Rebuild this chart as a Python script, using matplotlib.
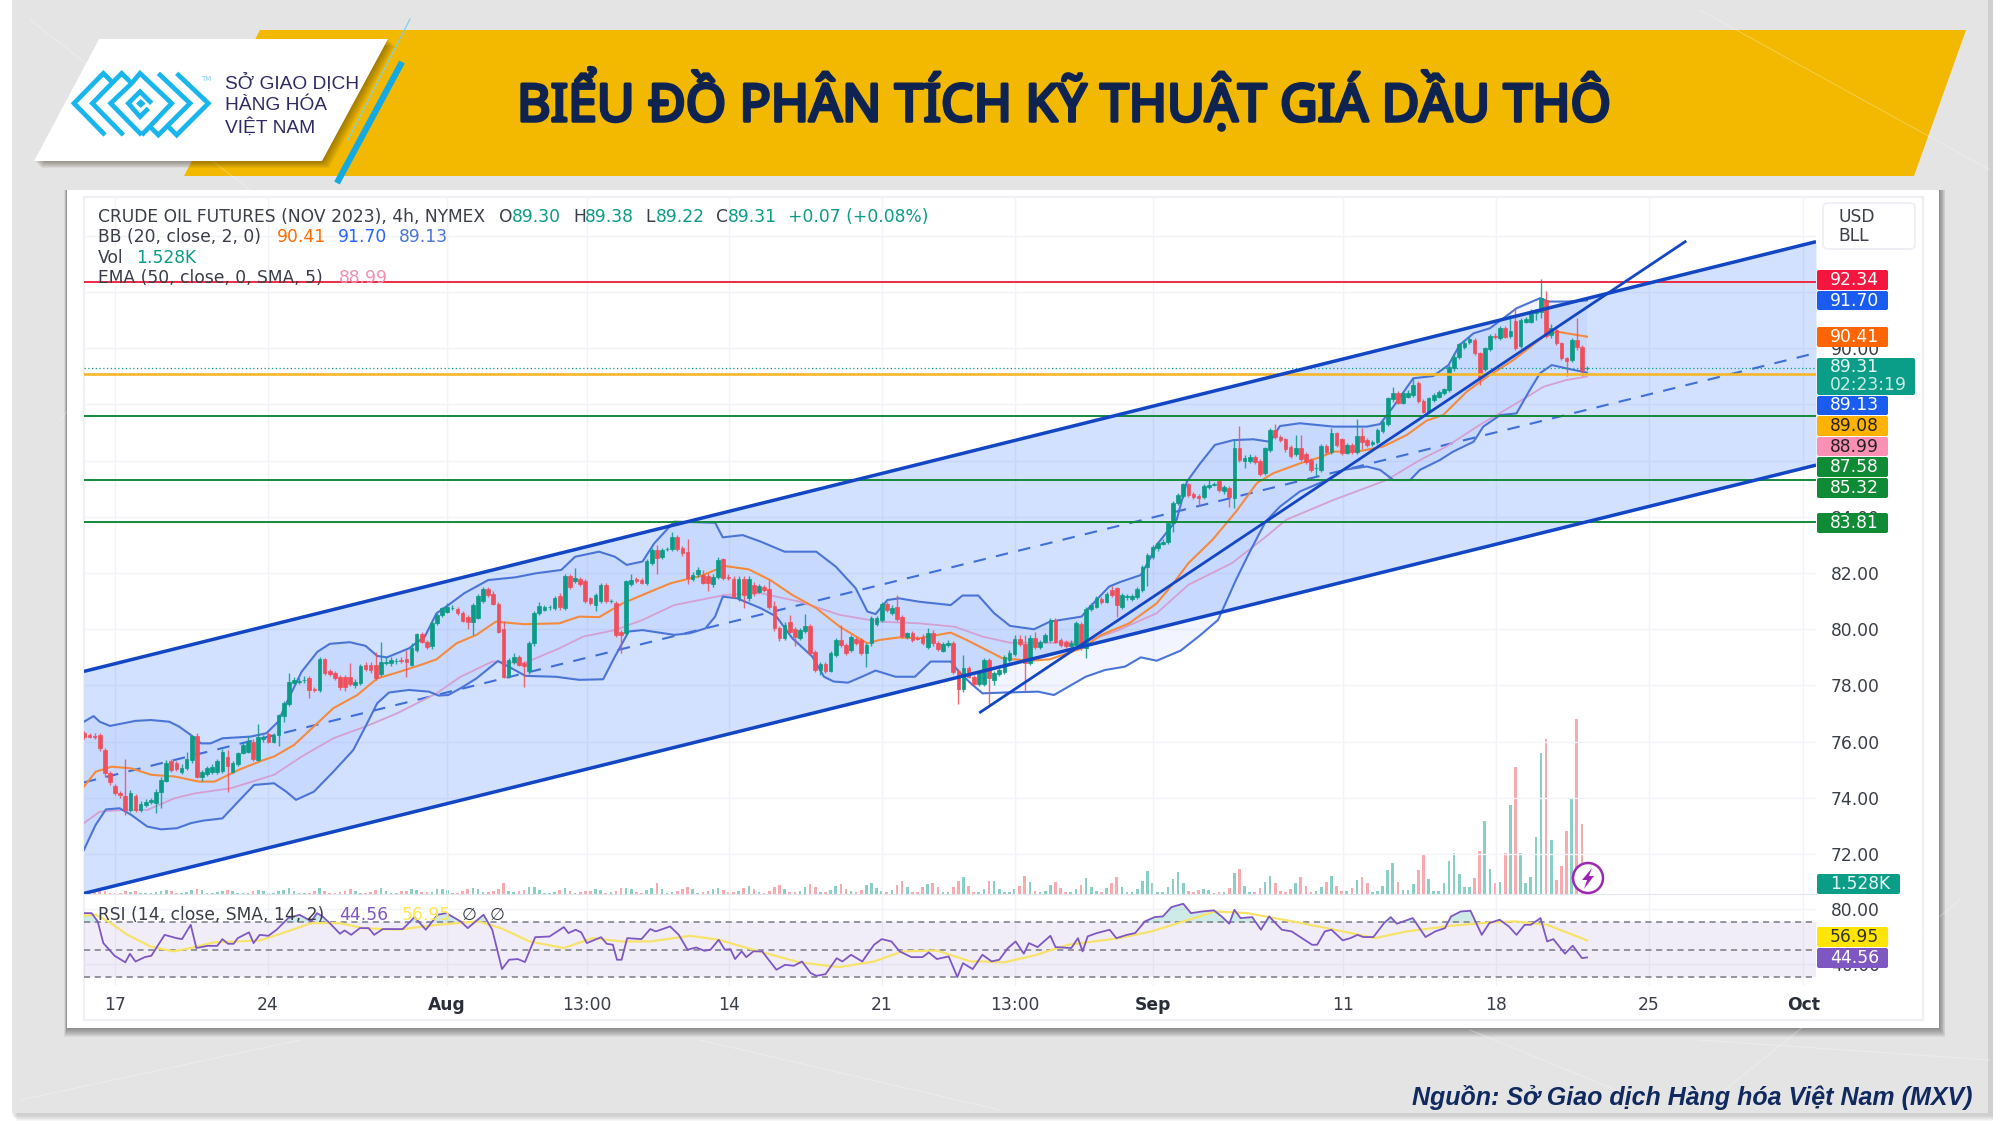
import matplotlib
matplotlib.use('Agg')
import matplotlib.pyplot as plt
import matplotlib.patheffects as pe
from matplotlib.patches import Polygon, Rectangle, FancyBboxPatch, Circle
import numpy as np

# candles (bar 0 is the leftmost)
opens = [
    76.30,76.24,76.20,76.24,75.70,74.87,74.42,74.16,74.05,73.57,
    74.07,73.57,73.75,73.85,73.83,74.20,74.60,75.30,75.23,74.93,
    75.05,75.35,76.20,74.76,74.85,74.93,74.93,74.97,75.47,74.93,
    75.20,75.60,75.65,76.00,75.35,76.08,76.28,76.00,76.24,76.90,
    77.34,78.10,78.13,78.18,78.25,77.87,77.84,78.93,78.50,78.46,
    78.30,78.30,78.30,78.00,78.07,78.72,78.73,78.72,78.40,78.80,
    78.80,78.87,78.90,78.93,78.73,79.26,79.82,79.56,79.40,80.21,
    80.50,80.63,80.75,80.71,80.59,80.45,80.27,80.40,81.00,81.42,
    81.26,80.90,80.00,78.34,78.85,79.03,78.79,78.50,79.50,80.57,
    80.70,80.78,80.75,81.20,80.75,81.90,81.70,81.78,81.70,81.10,
    80.86,81.00,81.58,81.00,80.95,79.90,79.86,81.60,81.78,81.75,
    81.63,82.37,82.82,82.56,82.84,82.85,83.27,82.88,82.76,81.80,
    81.98,81.93,81.90,81.60,81.85,82.49,81.85,81.80,81.10,81.80,
    81.10,81.58,81.34,81.50,81.42,80.83,80.03,79.68,80.27,80.00,
    79.70,79.95,80.12,79.20,78.55,78.77,78.53,79.09,79.62,79.44,
    79.26,79.64,79.62,79.15,79.50,80.20,80.33,80.90,80.57,80.80,
    80.43,79.71,79.88,79.68,79.74,79.38,79.88,79.50,79.24,79.43,
    79.52,78.53,77.86,78.61,78.31,78.05,78.05,78.91,78.20,78.41,
    78.49,78.91,79.12,79.64,79.48,78.79,79.68,79.36,79.56,79.62,
    80.33,79.62,79.56,79.41,79.44,80.19,79.32,80.71,80.80,81.07,
    80.98,81.40,81.46,80.80,81.15,81.07,81.14,81.40,82.23,82.58,
    82.88,83.05,83.12,83.77,84.48,84.75,85.16,84.80,84.74,84.72,
    85.07,85.15,85.27,84.93,85.02,84.66,86.44,86.00,86.00,86.14,
    85.99,85.57,86.38,87.09,86.85,86.76,86.47,86.24,86.44,86.24,
    86.02,85.72,85.67,86.52,86.32,86.97,86.76,86.28,86.56,86.32,
    86.88,86.74,86.60,86.65,87.07,87.30,88.18,88.40,88.06,88.28,
    88.33,88.75,88.13,87.74,88.16,88.28,88.40,88.51,89.28,89.68,
    90.05,90.22,90.29,89.82,89.25,89.97,90.42,90.35,90.73,90.44,
    90.98,90.08,90.94,90.94,91.24,91.30,91.72,90.47,90.65,90.17,
    89.64,89.58,90.29,90.05,89.30]
closes = [
    76.16,76.18,76.15,75.76,74.87,74.55,74.16,74.10,73.57,74.16,
    73.57,73.80,73.87,73.93,74.20,74.65,75.25,75.00,75.02,75.05,
    75.37,76.20,74.76,74.93,75.05,75.10,75.30,75.65,75.12,75.23,
    75.60,75.88,76.00,75.37,76.15,76.18,76.00,76.24,76.95,77.36,
    78.14,78.20,78.16,78.20,77.84,77.85,78.93,78.43,78.42,78.26,
    77.95,77.93,78.04,78.13,78.70,78.60,78.55,78.25,78.82,78.85,
    78.90,78.88,78.87,78.85,79.32,79.82,79.56,79.36,80.24,80.50,
    80.74,80.78,80.76,80.59,80.30,80.27,80.86,81.18,81.42,81.22,
    80.90,79.92,78.30,78.90,79.03,78.73,78.70,79.52,80.57,80.83,
    80.80,80.79,81.12,80.78,81.90,81.50,81.82,81.60,81.02,80.92,
    81.22,81.58,81.00,81.02,79.80,79.80,81.70,81.75,81.70,81.66,
    82.43,82.82,82.52,82.82,82.85,83.27,82.85,82.70,81.82,81.93,
    82.10,81.66,81.63,81.87,82.47,81.81,81.83,81.16,81.80,81.22,
    81.80,81.28,81.54,81.40,80.80,80.03,79.68,80.15,79.92,79.71,
    79.97,80.12,79.15,78.55,78.77,78.53,79.15,79.62,79.44,79.17,
    79.71,79.52,79.17,79.44,80.39,80.39,80.90,80.69,80.75,80.35,
    79.76,79.86,79.62,79.67,79.52,79.88,79.50,79.29,79.48,79.52,
    78.49,77.86,78.61,78.31,78.05,78.49,78.91,78.25,78.43,78.55,
    79.03,79.17,79.64,79.48,78.79,79.68,79.38,79.56,79.80,80.33,
    79.56,79.44,79.41,79.52,80.24,79.32,80.71,80.86,81.10,80.97,
    81.26,81.22,80.86,81.22,81.17,81.18,81.42,82.23,82.65,82.94,
    83.06,83.12,83.77,84.48,84.78,85.16,84.78,84.70,84.66,85.10,
    85.13,85.16,84.95,85.05,84.72,86.44,86.02,86.08,86.12,85.96,
    85.52,86.44,87.09,86.83,86.73,86.40,86.16,86.44,86.05,85.96,
    85.67,85.74,86.52,86.32,86.97,86.56,86.28,86.56,86.32,86.88,
    86.68,86.56,86.65,87.09,87.39,88.22,88.40,88.06,88.40,88.42,
    88.69,88.13,87.74,88.22,88.33,88.45,88.54,89.34,89.70,90.14,
    90.20,90.32,89.82,88.93,89.99,90.44,90.39,90.73,90.41,90.61,
    90.00,91.00,91.03,91.30,91.34,91.77,90.43,90.71,90.17,89.64,
    89.56,90.29,90.03,89.22,89.31]
highs = [
    76.38,76.30,76.30,76.30,75.78,74.97,74.50,74.25,75.40,74.28,
    74.15,73.88,73.95,74.00,74.30,74.75,75.35,75.40,75.30,75.20,
    75.65,76.25,76.30,75.00,75.15,75.20,75.38,75.75,75.70,75.30,
    75.65,75.95,76.20,76.10,76.63,76.25,76.35,76.30,77.00,77.45,
    78.46,78.30,78.25,78.35,78.35,77.95,79.00,78.98,78.60,78.52,
    78.38,78.38,78.80,78.22,78.78,78.85,78.85,79.20,79.55,79.00,
    79.00,78.98,79.00,79.25,79.50,79.88,79.90,79.62,80.30,80.58,
    80.80,80.95,80.85,80.78,80.65,80.52,80.92,81.25,81.50,81.50,
    81.35,80.98,80.30,78.98,79.15,79.10,78.88,79.58,80.65,80.98,
    80.88,80.88,81.20,81.30,81.95,81.98,82.17,81.85,81.78,81.15,
    81.28,81.65,81.65,81.08,81.00,79.98,81.75,81.97,81.85,81.82,
    82.50,82.90,83.00,82.90,82.92,83.45,83.35,82.95,83.20,82.05,
    82.20,82.10,82.00,81.95,82.58,82.55,81.95,81.88,81.90,81.88,
    81.88,81.68,81.60,81.58,81.75,81.02,80.10,80.25,80.50,80.08,
    80.03,80.54,80.20,79.25,78.85,78.85,79.22,79.70,80.15,79.50,
    79.80,79.72,79.70,79.50,80.47,80.48,80.98,80.98,80.85,81.22,
    80.50,79.92,79.95,79.75,79.82,80.05,79.98,79.58,79.55,79.60,
    79.58,78.60,79.09,78.68,78.38,78.55,78.98,78.98,78.50,78.62,
    79.10,79.25,79.80,79.80,79.80,79.78,79.90,79.62,79.88,80.40,
    80.39,79.68,79.62,79.60,80.30,80.25,80.78,80.92,81.18,81.15,
    81.32,81.54,81.52,81.30,81.25,81.25,81.50,82.30,82.72,83.00,
    83.12,83.20,83.82,84.55,84.85,85.22,85.22,84.88,84.80,85.16,
    85.30,85.25,85.33,85.12,85.08,86.73,87.23,86.20,86.25,86.20,
    86.05,86.50,87.15,87.30,86.92,86.82,86.55,86.90,86.90,86.30,
    86.10,85.90,86.58,86.60,87.15,87.02,86.82,86.62,86.62,87.47,
    87.15,86.80,86.72,87.15,87.45,88.28,88.63,88.48,88.45,88.50,
    88.93,88.82,88.20,88.28,88.40,88.52,88.60,89.40,89.78,90.20,
    90.28,90.40,90.38,89.88,90.05,90.50,90.55,90.80,90.80,91.18,
    91.42,91.08,91.10,91.38,91.40,92.45,92.04,90.85,90.72,90.22,
    89.70,90.35,91.06,90.12,89.38]
lows = [
    76.10,76.12,76.08,75.68,74.75,74.45,74.10,74.00,73.40,73.50,
    73.50,73.50,73.68,73.78,73.45,73.63,74.55,74.92,74.95,74.85,
    74.98,75.25,74.70,74.60,74.78,74.85,74.85,74.90,74.20,74.88,
    75.15,75.55,75.60,75.30,75.30,76.00,75.95,75.95,75.85,76.70,
    77.28,78.05,78.05,78.10,77.55,77.75,77.78,78.38,78.35,78.20,
    77.85,77.80,77.98,77.92,78.00,78.52,78.45,78.20,78.35,78.72,
    78.70,78.75,78.80,78.30,78.68,79.20,79.50,79.30,79.30,80.15,
    80.45,80.58,80.68,80.52,80.25,80.00,79.80,80.35,80.95,81.15,
    80.85,79.85,78.25,78.28,78.78,78.68,77.95,78.40,79.42,80.50,
    80.65,80.70,80.70,80.70,80.70,81.45,81.65,81.55,80.95,80.85,
    80.65,80.95,80.95,80.95,79.72,79.15,79.80,81.55,81.65,81.60,
    81.58,82.30,81.97,82.50,82.78,82.80,82.78,82.62,81.60,81.70,
    81.85,81.60,81.35,81.50,81.78,81.75,81.75,81.10,81.00,80.75,
    81.00,81.20,81.28,81.32,80.72,79.95,79.58,79.60,79.85,79.40,
    79.62,79.88,79.10,78.48,78.37,78.45,78.48,79.02,79.38,79.10,
    79.20,79.45,79.10,78.67,79.42,80.12,80.25,80.60,80.50,80.28,
    79.70,79.65,79.55,79.60,79.45,79.30,79.42,79.22,79.18,79.38,
    78.42,77.34,77.78,78.25,77.98,77.98,77.98,77.34,78.00,78.35,
    78.42,78.85,79.05,79.42,77.82,78.72,79.30,79.30,79.50,79.55,
    79.50,79.38,79.35,79.35,79.38,79.25,78.97,80.65,80.75,80.90,
    80.92,81.15,80.45,80.72,81.05,81.00,81.08,81.32,81.55,82.50,
    82.80,82.98,83.05,83.47,84.42,84.68,84.72,84.62,84.40,84.65,
    85.00,85.08,84.88,84.80,84.35,84.30,85.95,85.75,85.92,85.88,
    85.45,85.50,86.30,86.78,86.65,86.32,86.08,86.15,85.98,85.88,
    85.60,85.45,85.60,86.25,86.25,86.50,86.20,86.22,86.25,86.25,
    86.40,86.50,86.52,86.60,87.00,87.22,88.10,88.00,88.00,88.22,
    88.28,88.05,87.68,87.68,88.10,88.22,88.35,88.45,89.20,89.60,
    89.98,90.15,89.75,88.70,89.18,89.90,90.32,90.28,90.35,90.38,
    89.92,90.02,90.88,90.88,91.00,91.06,90.35,90.35,90.10,89.58,
    89.00,89.50,89.95,89.00,89.22]
volumes = [
    .4,.4,.8,1.1,1.1,.4, .4,.4,1.1,.8,1.1,.4, .4,.4,.8,1.1,1.5,1.1,
    .4,.4,.8,1.5,1.9,1.5, .4,.4,.8,1.1,1.5,1.1, .4,.4,.4,1.1,1.5,1.1,
    .4,.4,1.1,1.5,2.3,1.1, .4,.4,.4,1.1,2.3,1.1, .4,.4,.8,1.1,1.9,1.1,
    .4,.4,.8,1.5,2.3,1.1, .4,.4,1.1,1.1,1.9,1.5, .8,.8,.8,1.9,1.9,1.5,
    .4,.4,1.1,1.9,2.3,1.9, .8,.8,1.1,1.9,4.2,1.1, .8,1.1,1.5,2.7,2.7,1.5,
    .4,.4,.8,1.5,2.3,1.1, .4,.8,
    1.1,1.1,1.9,1.5,.4,.8,1.1,2.3,2.3,1.9,
    .8,.4,1.5,2.3,4.2,1.9,.4,.8,1.1,1.9,
    2.7,1.9,.4,.8,1.1,1.9,2.3,1.5,.8,.8,
    1.1,2.3,3.0,1.9,.8,.4,1.1,2.7,3.4,1.9,
    .8,.8,1.1,2.7,3.8,2.7,.8,.8,1.5,3.0,
    3.8,1.9,1.1,.8,1.5,3.4,4.2,2.3,1.1,.8,
    1.5,3.4,4.9,2.7,.8,.8,2.7,3.8,4.2,2.7,
    .8,.8,2.7,4.9,6.5,3.0,.8,.8,1.9,4.9,
    4.9,1.9,.8,.8,1.9,3.0,6.8,4.6,1.1,.8,
    1.1,3.4,4.6,2.3,.8,.8,1.9,
    3.4,6.1,2.7,1.1,.8,2.3,4.2,6.5,2.7,.8,
    .8,1.9,4.9,8.7,4.2,.8,.8,2.7,5.7,8.4,
    4.2,1.1,.8,1.5,1.9,1.5,.4,.8,.8,2.3,
    8.0,9.5,3.0,.8,.8,2.3,4.6,6.8,4.2,1.1,
    .8,1.9,4.2,6.5,3.0,.8,1.1,2.7,4.6,6.8,
    3.0,1.1,1.1,2.3,5.3,6.5,4.2,.8,1.1,3.0,
    9.1,11.8,4.6,1.5,1.5,3.8,9.1,15.2,5.7,1.1,
    1.1,4.2,12.5,15.6,7.6,2.7,2.7,6.1,16.3,27.7,
    9.5,4.2,4.6,15.6,33.8,48.3,15.6,4.2,6.5,21.7,
    53.6,58.9,20.5,5.3,10.6,23.9,36.1,66.5,26.6,1.528]

# bollinger bands and moving averages (bar, price)
bb_up_x = [-0.1,1.8,3,5,10,13,16.6,18.5,20.8,22.8,24.7,27,32.5,35.6,37.9,39.8,42.5,45.6,48,51.9,55,57.3,59.2,63.5,66.6,68.9,71.2,74.3,76.7,79,84.4,88.3,93.3,96,100.7,103.8,106.1,109.2,111.5,115.4,123.4,124.9,128.8,132.3,137,143.2,147,150.9,153.2,154.8,157.1,159.4,163.3,169.5,171.8,174.9,178,181.1,185.8,188.9,195.1,196.5,200.5,202.8,206.7,208.7,209.8,213.7,215.7,218.3,221.2,224.8,228.7,232,233.9,237.8,244.4,250.9,253.5,256.1,260,263.9,266.9,269.1,271.8,275,277.6,280.2,284.8,286.4,290,294]
bb_up_y = [76.71,76.91,76.71,76.56,76.74,76.77,76.71,76.54,76.24,75.94,75.94,76.12,76.18,76.3,76.71,77.48,78.49,79.2,79.48,79.54,79.41,79.05,79.0,79.32,79.74,80.57,80.86,81.28,81.52,81.75,81.85,81.99,82.11,82.58,82.76,82.58,82.29,82.41,83.06,83.83,83.79,83.27,83.35,83.12,82.76,82.76,82.23,81.46,80.63,80.54,81.04,81.1,80.98,80.86,81.2,81.2,80.57,80.12,80.0,80.27,80.45,80.75,81.52,81.69,81.93,82.58,83.0,83.89,85.25,85.9,86.56,86.73,86.76,86.67,87.23,87.33,87.21,87.21,87.3,87.92,88.93,89.01,89.4,90.12,90.53,90.71,91.06,91.42,91.78,91.66,91.66,91.70]
bb_lo_x = [-0.1,2.2,4.2,6.9,9.2,12.3,15,18.1,20.8,23.2,27,30.1,33.2,37.1,39.5,41.4,44.9,48.7,52.6,55,57.3,59.6,63.5,67.4,69.3,71.2,73.6,76.7,80.9,83.6,86.3,92.2,96.8,101.5,103.8,106.5,109.2,115.4,118.5,121.5,123.4,124.9,127.7,132.3,135.4,138.5,142.4,144.7,146.6,149.4,152.5,154.8,158.7,162.5,165.6,169.5,171.1,173.4,175.7,180.4,186.6,189.7,192,195.9,199.7,203.6,206.7,209.8,214.5,218.4,221.8,225.3,227.7,231.1,233.9,237.8,243.1,246.3,250.9,253.5,256.1,259.4,261.3,265.2,267.8,271.8,273.7,277,280.2,282.8,284.8,287.1,290,294]
bb_lo_y = [72.15,73.04,73.59,73.63,73.39,72.98,72.88,72.92,73.1,73.19,73.27,73.87,74.46,74.52,74.22,73.93,74.22,74.93,75.7,76.54,77.37,77.75,77.84,77.78,77.64,77.66,77.9,78.25,78.87,78.61,78.34,78.31,78.2,78.22,79.03,79.92,79.97,79.8,79.86,80.03,80.45,81.16,81.1,80.75,80.45,79.68,79.03,78.31,78.14,78.1,78.34,78.53,78.31,78.31,78.85,78.85,78.49,78.08,77.72,77.75,77.78,77.66,77.9,78.31,78.55,78.67,79.0,78.88,79.24,79.8,80.33,81.75,82.64,83.83,84.36,84.9,85.31,85.67,85.79,85.67,85.31,85.31,85.67,86.02,86.32,86.67,87.21,87.62,87.68,88.51,89.11,89.4,89.28,89.13]
bb_mid_x = [-0.1,2.2,5.3,9.2,13.1,17.7,22.4,25.5,30.1,34.8,37.1,41,44.9,48.7,53.4,57.3,61.2,65.8,68.9,72.8,76.7,80.5,86,92.9,96.8,100.7,105.3,109.2,114.6,118.5,120.7,125.3,130,134.2,138.5,143.2,147.8,153.2,155.6,159.4,163.3,169.5,172.6,176.5,179.6,185,188.9,195.1,199,204.4,209.8,213.3,216,220.7,225.3,229.4,232.6,237.8,241.8,244.4,249.6,254.1,258.7,262.6,265.9,270.5,275,279.6,285.5,288.1,294]
bb_mid_y = [74.4,74.93,75.11,75.05,74.82,74.76,74.58,74.58,74.99,75.33,75.47,75.88,76.54,77.19,77.66,78.25,78.46,78.73,78.93,79.5,79.8,80.27,80.18,80.21,80.45,80.43,80.92,81.22,81.63,81.81,81.9,82.25,82.13,81.75,81.22,80.75,80.09,79.5,79.62,79.71,79.68,79.88,79.62,79.26,78.97,78.88,78.93,79.32,79.8,80.21,80.92,81.69,82.35,83.18,84.18,85.2,85.55,85.9,86.12,86.32,86.34,86.5,86.91,87.42,87.63,88.46,89.05,89.58,90.41,90.59,90.41]
ema_x = [-0.1,3,7.7,12.3,17.7,21.6,28.6,37.1,42.5,48.7,55,61.2,68.9,73.6,79.8,86,92.9,97.6,103.8,109.2,115.4,125.3,132.3,140,147.8,155.6,163.3,170.3,175.7,181.1,189.7,195.9,202.1,209.8,216,224.5,230.8,235.2,244.4,254.8,261.3,266.5,273,280.2,285.5,290,294]
ema_y = [73.1,73.51,73.57,73.57,73.99,74.16,74.34,74.82,75.47,76.12,76.54,77.01,77.72,78.31,78.85,78.79,79.32,79.74,79.97,80.33,80.86,81.22,81.28,80.98,80.51,80.27,80.21,80.09,79.74,79.52,79.52,79.56,79.95,80.57,81.58,82.35,83.24,83.9,84.6,85.31,86.02,86.5,87.27,88.04,88.63,88.87,88.99]

# rsi pane (bar, value)
rsi_x = [-0.3,1.4,2.6,3.7,5.9,8,8.9,10,11.8,13.1,15.7,18,19.1,20.8,21.9,24.1,26,27,28.1,29.2,30,32.2,33.1,34.3,36,37.6,39.9,42.1,44.4,45.5,46.6,48,50,50.9,52.2,53.9,55.6,56.7,58.4,62.3,64.6,66.8,69.1,70.8,73.6,75,78.1,79.8,81.7,83.1,84.8,86.2,88.2,91,93.8,94.7,96.1,97.2,98.3,101.1,102.2,103.4,104.2,105.1,106.2,109,110.7,111.8,114.6,116.3,118,119.7,121.3,122.5,124.1,125.3,126.4,127.3,128.6,129.5,130.9,132.6,135.4,137.1,138.8,140.4,142.1,143.2,145,147.2,148.3,150,152.2,154.5,156,157.9,159.5,161.8,164,165.2,166.8,169.1,170.8,171.9,173.8,175.7,177.5,179,180.7,182.2,183.8,184.8,186.5,189,190,193.1,194.4,195.3,196.3,198.1,200.6,201.9,204,205.6,207.5,209.4,211,212.7,215,216.5,218.7,221,222.5,224,225,226.2,228.5,230.2,231.8,234.3,236.2,240.2,241.2,242.7,244,246.2,247.7,249.1,250.2,252.2,254.3,255.6,256.8,259.9,262.4,264.3,266.2,267.4,269.3,271.2,273.4,274.9,276.9,278.7,280.2,281.8,283,284.9,286.2,287.4,289.7,291.2,293,294]
rsi_y = [76.8,76.8,70.8,55,45.8,41,47.2,41.6,44.8,45.8,61,58.6,57.9,68.3,51.4,53,53,57.9,54.5,54.5,58.6,62.8,55,61,60.3,64.7,73.2,75.6,70.8,76.8,74.4,69.5,61.8,64.2,61,65.9,65.9,61,65.2,65.2,73.9,64.7,75.6,76.8,70.8,65.9,75.6,64.7,36.1,42.9,43.4,41.2,59.3,59.8,66.6,62.3,64.7,62.8,55,59.3,54.5,53.8,42.9,42.9,58.6,57.9,65.2,63.5,67.1,61,50.2,51.8,49.4,50.2,57.4,50.2,50.6,43.4,49,44.8,49,49,35.6,39.2,38.5,41.6,33.2,31.2,32.4,44,41.6,46.5,41.6,53.8,57.9,56.2,49,44.8,44.8,48.2,43.4,45.3,30.3,40.4,36.1,46.5,41.7,42.9,51.4,56.2,47.3,55,52.1,60.3,52.1,51.4,58.6,49,59.9,62.3,64.7,58.6,61,62.3,70.8,73.9,74.4,81.2,83.6,76.8,78,78.8,74.4,69.1,79.2,73.2,73.9,64.7,74.4,64.7,63.5,53.8,53.8,63.5,64.7,57,58.6,61,59.4,59.4,69.6,73.9,69.1,73.2,59.4,63.5,65.9,74.4,78,78.5,61,69.6,72,67.1,61,68.3,68.3,73.2,56.2,57.9,47.3,53.1,44.1,44.56]
rsi_ma_x = [-0.3,2.2,5,8.4,12.9,17.4,20.8,25.3,34.3,38.8,44.4,50,54.5,61.2,69.1,77,81.5,87.1,93.8,99.4,105.1,110.7,118.5,124.1,132,139.9,147.7,154.5,160.1,166.8,173.4,175,180,186.3,192.5,202.5,208.8,221.2,227.5,237.5,246.2,252.5,258.7,267.4,274.9,279.9,286.2,294]
rsi_ma_y = [74.9,75.6,70,61,52.6,49,51.4,55.5,56.9,62.3,69.5,69.5,65.9,64.7,68.3,70.8,65.9,56.2,51.4,58.6,56.2,56.2,60.3,57.4,49,41,37.5,41.6,49,49.6,41.6,41.7,41,46.5,53.8,58.6,63.5,78,76.8,70,63.5,58.6,63.5,67.6,70,70.8,68.3,56.95]

# drawn objects: channel, trend line, levels
channel_x = [-0.1, 338.8]
channel_top = [78.5, 93.79]
channel_mid = [74.55, 89.83]
channel_bot = [70.6, 85.84]
trend_x = [175.3, 313.2]
trend_y = [77.05, 93.79]
level_red = 92.34
level_gold = 89.08
levels_green = [87.58, 85.32, 83.81]
last_price = 89.31

tick_pos = [6, 35.9, 70.9, 98.3, 126.1, 156, 182.1, 209.1, 246.3, 276.2, 306.1, 336.3]
tick_txt = ['17', '24', 'Aug', '13:00', '14', '21', '13:00', 'Sep', '11', '18', '25', 'Oct']
price_ticks = [72, 74, 76, 78, 80, 82, 84, 86, 88, 90, 92, 94]
price_txt = ['72.00', '74.00', '76.00', '78.00', '80.00', '82.00', '84.00', '', '', '90.00', '', '']

GREEN = '#0b9b86'
RED = '#ef4f5b'
BLUE = '#1246c4'
BB_BLUE = '#4a74d6'
TXT = '#3a3e48'
FS = 12.3

plt.rcParams['font.family'] = ['DejaVu Sans']
fig = plt.figure(figsize=(20, 11.25), dpi=100)


def rect(l, t, r, b):
    return [l / 2000, 1 - b / 1125, (r - l) / 2000, (b - t) / 1125]


def pix_axes(z):
    a = fig.add_axes([0, 0, 1, 1], zorder=z)
    a.set_xlim(0, 2000)
    a.set_ylim(1125, 0)
    a.axis('off')
    return a


# page, banner and white card
bg = pix_axes(0)
bg.add_patch(Rectangle((0, 0), 2000, 1125, color='white'))
for k in range(6):
    bg.add_patch(Rectangle((12 + k, 0), 1976 - k + 5, 1116 + k, color='#555555', alpha=0.05, lw=0))
bg.add_patch(Rectangle((12, 0), 1976, 1113, color='#e4e4e4', lw=0))
for seg in [((30, 20), (250, 190)), ((250, 190), (60, 420)), ((1700, 10), (1990, 170)), ((1960, 900), (1700, 1110)),
            ((1470, 1030), (1640, 1100)), ((1700, 1040), (1990, 1060)), ((20, 1100), (300, 1040)), ((700, 1040), (1000, 1110))]:
    bg.plot([seg[0][0], seg[1][0]], [seg[0][1], seg[1][1]], color='white', lw=0.7, alpha=0.3)
for k in range(10):
    bg.add_patch(Rectangle((67 - k * 0.3, 190), 1872 + k, 838 + k, color='#222222', alpha=0.06, lw=0))
bg.add_patch(Rectangle((67, 190), 1872, 838, color='white', lw=0))
bg.add_patch(Rectangle((84, 197), 1839, 823, fill=False, edgecolor='#eef0f4', lw=1.6))
bg.add_patch(Polygon([(260, 30), (1966, 30), (1914, 176), (184, 176)], color='#f2b900', lw=0))

# chart panes
pane = rect(84, 197, 1816, 894)
vax = fig.add_axes(pane, zorder=1)
ax = fig.add_axes(pane, zorder=2, sharex=vax)
rsi = fig.add_axes(rect(84, 894, 1816, 986), zorder=2, sharex=vax)
ax.set_facecolor('none')
rsi.set_facecolor('none')
vax.set_facecolor('none')

x = np.arange(len(closes))
o = np.array(opens)
c = np.array(closes)
h = np.array(highs)
l = np.array(lows)
up = c >= o
col = np.where(up, GREEN, RED)

vax.bar(x, volumes, width=0.52, color=col, alpha=0.48, lw=0)
vax.set_ylim(0, 264.9)
vax.set_xlim(-0.08, 338.8)
vax.axis('off')

ax.set_ylim(70.58, 95.38)
ax.set_yticks(price_ticks)
ax.set_yticklabels(price_txt)
ax.yaxis.tick_right()
ax.tick_params(axis='y', length=0, pad=10.8, labelsize=FS, labelcolor=TXT)
ax.tick_params(axis='x', length=0, labelbottom=False)
ax.set_xticks(tick_pos)
ax.grid(True, color='#f1f3f8', lw=1)
ax.set_axisbelow(True)
for s in ax.spines.values():
    s.set_visible(False)

ax.fill_between(channel_x, channel_bot, channel_top, color='#2f72ff', alpha=0.21, lw=0, zorder=1)
ax.plot(channel_x, channel_mid, color='#3f6fd8', lw=1.5, dashes=(6, 5), zorder=2)
ax.fill(bb_up_x + bb_lo_x[::-1], bb_up_y + bb_lo_y[::-1], color='#2962ff', alpha=0.06, lw=0, zorder=2)

ax.plot(ema_x, ema_y, color='#d4a0d2', lw=1.3, zorder=3)
ax.plot(bb_up_x, bb_up_y, color=BB_BLUE, lw=1.5, zorder=3)
ax.plot(bb_lo_x, bb_lo_y, color=BB_BLUE, lw=1.5, zorder=3)
ax.plot(bb_mid_x, bb_mid_y, color='#f58a3c', lw=1.5, zorder=3)

ax.vlines(x, l, h, color=col, lw=1.0, alpha=0.85, zorder=4)
ax.bar(x, c - o, bottom=o, width=0.72, color=col, edgecolor=col, lw=0.5, zorder=5)

ax.axhline(level_red, color='#ee2a45', lw=1.4, zorder=6)
ax.axhline(level_gold, color='#f6b62a', lw=1.9, zorder=6)
for lv in levels_green:
    ax.axhline(lv, color='#128a3a', lw=1.4, zorder=6)
ax.axhline(last_price, color=GREEN, lw=0.9, ls=(0, (1, 2)), zorder=6)
ax.plot(channel_x, channel_top, color=BLUE, lw=2.5, zorder=7, solid_capstyle='butt')
ax.plot(channel_x, channel_bot, color=BLUE, lw=2.5, zorder=7, solid_capstyle='butt')
ax.plot(trend_x, trend_y, color=BLUE, lw=2.0, zorder=7)

# rsi
rsi.set_ylim(23.8, 90.7)
rsi.set_yticks([80, 40])
rsi.set_yticklabels(['80.00', '40.00'])
rsi.yaxis.tick_right()
rsi.tick_params(axis='y', length=0, pad=10.8, labelsize=FS, labelcolor=TXT)
rsi.set_xticks(tick_pos)
rsi.set_xticklabels(tick_txt)
rsi.tick_params(axis='x', length=0, pad=7.5, labelsize=FS, labelcolor=TXT)
for lab, name in zip(rsi.get_xticklabels(), tick_txt):
    if name in ('Aug', 'Sep', 'Oct'):
        lab.set_fontweight('bold')
        lab.set_color('#2a2e39')
rsi.grid(True, color='#f1f3f8', lw=1)
rsi.set_axisbelow(True)
for name, s in rsi.spines.items():
    s.set_visible(name == 'top')
rsi.spines['top'].set_color('#e3e5ec')
rsi.axhspan(30, 70, color='#7e57c2', alpha=0.1, lw=0)
for lv in [70, 50, 30]:
    rsi.axhline(lv, color='#787b86', lw=1.1, dashes=(4, 3))
rx = np.array(rsi_x)
ry = np.array(rsi_y)
rsi.fill_between(rx, ry, 70, where=ry > 70, interpolate=True, color='#26a69a', alpha=0.22, lw=0)
rsi.plot(rsi_ma_x, rsi_ma_y, color='#f7e36a', lw=1.6)
rsi.plot(rx, ry, color='#7e57c2', lw=1.3)

# labels on top of everything
fg = pix_axes(5)


def tag(t, b, txt, face, fc='white', r=1888):
    fg.add_patch(FancyBboxPatch((1817, t), r - 1817, b - t, boxstyle='round,pad=0,rounding_size=2', fc=face, ec='none'))
    fg.text(1830, (t + b) / 2, txt, color=fc, fontsize=FS, va='center', ha='left')


fg.add_patch(FancyBboxPatch((1823, 203), 92, 46, boxstyle='round,pad=0,rounding_size=5', fc='white', ec='#eceef3', lw=1.2))
fg.text(1838, 217, 'USD', fontsize=FS, color=TXT, va='center')
fg.text(1838, 236, 'BLL', fontsize=FS, color=TXT, va='center')

tag(270, 290, '92.34', '#f5163f')
tag(291, 310, '91.70', '#1a5cf0')
tag(327, 347, '90.41', '#ff6500')
fg.add_patch(FancyBboxPatch((1817, 358), 98, 37, boxstyle='round,pad=0,rounding_size=2', fc='#0a9d88', ec='none'))
fg.text(1830, 367.5, '89.31', color='#e6f7f3', fontsize=FS, va='center')
fg.text(1830, 385.5, '02:23:19', color='#c8ece5', fontsize=FS, va='center')
tag(396, 415, '89.13', '#1a5cf0')
tag(416, 436, '89.08', '#ffb300', fc='#222222')
tag(437, 456, '88.99', '#fb8fb4', fc='#222222')
tag(457, 477, '87.58', '#0f8a35')
tag(478, 498, '85.32', '#0f8a35')
tag(513, 533, '83.81', '#0f8a35')
fg.add_patch(FancyBboxPatch((1817, 874), 83, 20, boxstyle='round,pad=0,rounding_size=2', fc='#0a9d88', ec='none'))
fg.text(1830, 884, '1.528K', color='#e6f7f3', fontsize=FS, va='center')
tag(927, 947, '56.95', '#ffe600', fc='#333333')
tag(948, 968, '44.56', '#7e57c2')

# legend rows
rows = [
    (217, [(97.6, 'CRUDE OIL FUTURES (NOV 2023), 4h, NYMEX', TXT), (499, 'O', TXT), (512, '89.30', GREEN), (573, 'H', TXT), (585, '89.38', GREEN),
           (645, 'L', TXT), (656, '89.22', GREEN), (716, 'C', TXT), (728, '89.31', GREEN), (788, '+0.07 (+0.08%)', GREEN)]),
    (237, [(97.6, 'BB (20, close, 2, 0)', TXT), (277, '90.41', '#ff6d00'), (338, '91.70', '#2962ff'), (399, '89.13', '#4a74d6')]),
    (258, [(97.6, 'Vol', TXT), (136, '1.528K', GREEN)]),
    (278, [(97.6, 'EMA (50, close, 0, SMA, 5)', TXT), (339, '88.99', '#f48fb1')]),
    (915, [(97.6, 'RSI (14, close, SMA, 14, 2)', TXT), (339, '44.56', '#7e57c2'), (402, '56.95', '#ffe74d'), (462, '∅', TXT), (490, '∅', TXT)]),
]
for yy, items in rows:
    for xx, s, cc in items:
        fg.text(xx, yy, s, fontsize=FS, color=cc, va='center', ha='left')

# lightning badge
fg.add_patch(Circle((1588, 878), 15, fc='white', ec='#9c27b0', lw=1.8))
fg.add_patch(Polygon([(1592, 868), (1582, 880), (1587, 880), (1584, 889), (1594, 876), (1589, 876)], color='#9c27b0', lw=0))

# logo plate
for k in range(8):
    fg.add_patch(Polygon([(99 + k, 39 + k), (388 + k, 39 + k), (322 + k, 161 + k), (34 + k, 161 + k)], color='#3a2c10', alpha=0.07, lw=0))
fg.add_patch(Polygon([(99, 39), (388, 39), (322, 161), (34, 161)], color='white', lw=0))
fg.plot([410, 348], [19, 140], color='#7ecfe9', lw=0.9)
fg.plot([402, 337], [62, 183], color='#12a9e4', lw=4.5, solid_capstyle='butt')

# the mark, in zoomed-crop coordinates of the logo
mark = [
    [(135, 225), (42, 130), (130, 40), (160, 70)],
    [(190, 225), (97, 130), (185, 40), (215, 70)],
    [(245, 225), (152, 130), (215, 70), (240, 40), (335, 130), (245, 225)],
    [(265, 145), (240, 170), (205, 130), (240, 95), (275, 130)],
    [(295, 40), (390, 130), (295, 225), (268, 198)],
    [(350, 40), (445, 130), (350, 225), (320, 195)],
]
for line in mark:
    px = [60 + p[0] / 3 for p in line]
    py = [60 + p[1] / 3 for p in line]
    fg.plot(px, py, color='#19b6ee', lw=3.4, solid_joinstyle='miter', solid_capstyle='butt')
fg.add_patch(Polygon([(140.7, 99), (145.5, 103.5), (140.7, 108), (136, 103.5)], color='#19b6ee', lw=0))
fg.text(201, 79, 'TM', fontsize=5, color='#7fcdea', va='center')

for yy, s in [(83, 'SỞ GIAO DỊCH'), (105, 'HÀNG HÓA'), (127, 'VIỆT NAM')]:
    fg.text(225, yy, s, family=['Liberation Sans', 'DejaVu Sans'], fontsize=13.8, color='#2f2a63', va='center', ha='left')

title = fg.text(517, 102, 'BIỂU ĐỒ PHÂN TÍCH KỸ THUẬT GIÁ DẦU THÔ', family=['Noto Sans', 'DejaVu Sans'], fontweight='bold',
                fontsize=37.2, color='#0f2350', va='center', ha='left')
title.set_path_effects([pe.withStroke(linewidth=2.4, foreground='#0f2350')])
fg.text(1972, 1098, 'Nguồn: Sở Giao dịch Hàng hóa Việt Nam (MXV)', family=['Liberation Sans', 'DejaVu Sans'], fontweight='bold',
        fontstyle='italic', fontsize=18, color='#10295e', va='center', ha='right')

fig.savefig('out.png', dpi=100)
